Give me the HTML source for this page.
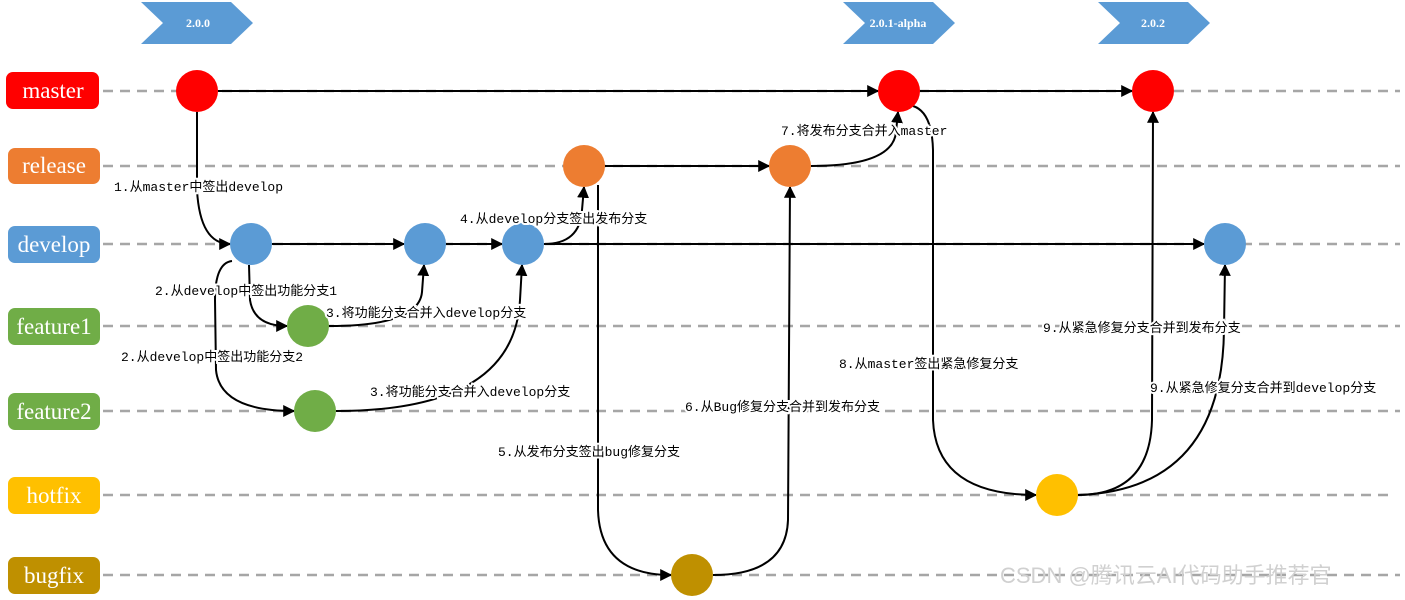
<!DOCTYPE html>
<html><head><meta charset="utf-8"><style>
html,body{margin:0;padding:0;background:#fff;}
svg{display:block;}
.lb{font-family:"Liberation Serif","Noto Serif CJK SC",serif;font-size:23px;fill:#fff;text-anchor:middle;}
.t{font-family:"Liberation Mono","Noto Sans CJK SC",monospace;font-size:13px;fill:#000;paint-order:stroke;stroke:#fff;stroke-width:4px;}
.tag{font-family:"Liberation Serif",serif;font-size:12px;font-weight:bold;fill:#fff;text-anchor:middle;}
.d{stroke:#a6a6a6;stroke-width:2.5;stroke-dasharray:10 7;fill:none;}
.c{stroke:#000;stroke-width:2;fill:none;marker-end:url(#a);}
</style></head><body>
<svg width="1405" height="600" viewBox="0 0 1405 600" xmlns="http://www.w3.org/2000/svg">
<defs><marker id="a" viewBox="0 0 10 10" refX="9" refY="5" markerWidth="6" markerHeight="6" orient="auto"><path d="M0 0 L10 5 L0 10 z" fill="#000"/></marker></defs>
<polygon points="141,2 231,2 253,23 231,44 141,44 163,23" fill="#5b9bd5"/>
<text class="tag" x="198" y="27">2.0.0</text>
<polygon points="843,2 933,2 955,23 933,44 843,44 865,23" fill="#5b9bd5"/>
<text class="tag" x="898" y="27">2.0.1-alpha</text>
<polygon points="1098,2 1188,2 1210,23 1188,44 1098,44 1120,23" fill="#5b9bd5"/>
<text class="tag" x="1153" y="27">2.0.2</text>
<line class="d" x1="103" y1="91" x2="1400" y2="91"/>
<line class="d" x1="103" y1="166" x2="1400" y2="166"/>
<line class="d" x1="103" y1="244" x2="1400" y2="244"/>
<line class="d" x1="103" y1="326" x2="1400" y2="326"/>
<line class="d" x1="103" y1="411" x2="1400" y2="411"/>
<line class="d" x1="103" y1="495" x2="1395" y2="495"/>
<line class="d" x1="103" y1="575" x2="1400" y2="575"/>
<rect x="6" y="72" width="93" height="37" rx="7" fill="#ff0000"/><text class="lb" x="53" y="98">master</text>
<rect x="8" y="148" width="92" height="36" rx="7" fill="#ed7d31"/><text class="lb" x="54" y="173">release</text>
<rect x="8" y="226" width="92" height="37" rx="7" fill="#5b9bd5"/><text class="lb" x="54" y="252">develop</text>
<rect x="8" y="308" width="92" height="37" rx="7" fill="#70ad47"/><text class="lb" x="54" y="334">feature1</text>
<rect x="8" y="393" width="92" height="37" rx="7" fill="#70ad47"/><text class="lb" x="54" y="419">feature2</text>
<rect x="8" y="477" width="92" height="37" rx="7" fill="#ffc000"/><text class="lb" x="54" y="503">hotfix</text>
<rect x="8" y="557" width="92" height="37" rx="7" fill="#bf9000"/><text class="lb" x="54" y="583">bugfix</text>
<path class="c" d="M218 91 L878 91"/>
<path class="c" d="M920 91 L1132 91"/>
<path class="c" d="M197 112 L197 190 Q200 244 230 244"/>
<path class="c" d="M272 244 L404 244"/>
<path class="c" d="M446 244 L502 244"/>
<path class="c" d="M544 244 L1204 244"/>
<path class="c" d="M544 244 Q580 244 582 210 L584 187"/>
<path class="c" d="M605 166 L769 166"/>
<path class="c" d="M811 166 Q893 166 896 132 L898 112"/>
<path class="c" d="M249 265 L250 300 Q254 326 287 326"/>
<path class="c" d="M232 261 Q215 263 215 300 L216 370 Q220 411 294 411"/>
<path class="c" d="M329 326 Q419 326 422 292 L424 265"/>
<path class="c" d="M336 411 Q514 411 520 300 L522 265"/>
<path class="c" d="M598 185 L598 510 Q600 575 671 575"/>
<path class="c" d="M713 575 Q786 575 788 520 L790 187"/>
<path class="c" d="M913 106 Q932 112 933 150 L933 420 Q936 495 1036 495"/>
<path class="c" d="M1078 495 Q1150 495 1152 420 L1153 112"/>
<path class="c" d="M1078 495 Q1222 490 1224 330 L1225 265"/>
<ellipse cx="197" cy="91" rx="21" ry="21" fill="#ff0000"/>
<ellipse cx="899" cy="91" rx="21" ry="21" fill="#ff0000"/>
<ellipse cx="1153" cy="91" rx="21" ry="21" fill="#ff0000"/>
<ellipse cx="584" cy="166" rx="21" ry="21" fill="#ed7d31"/>
<ellipse cx="790" cy="166" rx="21" ry="21" fill="#ed7d31"/>
<ellipse cx="251" cy="244" rx="21" ry="21" fill="#5b9bd5"/>
<ellipse cx="425" cy="244" rx="21" ry="21" fill="#5b9bd5"/>
<ellipse cx="523" cy="244" rx="21" ry="21" fill="#5b9bd5"/>
<ellipse cx="1225" cy="244" rx="21" ry="21" fill="#5b9bd5"/>
<ellipse cx="308" cy="326" rx="21" ry="21" fill="#70ad47"/>
<ellipse cx="315" cy="411" rx="21" ry="21" fill="#70ad47"/>
<ellipse cx="1057" cy="495" rx="21" ry="21" fill="#ffc000"/>
<ellipse cx="692" cy="575" rx="21" ry="21" fill="#bf9000"/>
<g class="t">
<text x="114" y="191">1.从master中签出develop</text>
<text x="155" y="295">2.从develop中签出功能分支1</text>
<text x="326" y="317">3.将功能分支合并入develop分支</text>
<text x="121" y="361">2.从develop中签出功能分支2</text>
<text x="370" y="396">3.将功能分支合并入develop分支</text>
<text x="460" y="223">4.从develop分支签出发布分支</text>
<text x="498" y="456">5.从发布分支签出bug修复分支</text>
<text x="685" y="411">6.从Bug修复分支合并到发布分支</text>
<text x="781" y="135">7.将发布分支合并入master</text>
<text x="839" y="368">8.从master签出紧急修复分支</text>
<text x="1043" y="332">9.从紧急修复分支合并到发布分支</text>
<text x="1150" y="392">9.从紧急修复分支合并到develop分支</text>
</g>
<text x="1000" y="583" font-family="Liberation Sans,Noto Sans CJK SC,sans-serif" font-size="22" fill="#d0d0d0">CSDN @腾讯云AI代码助手推荐官</text>
</svg>
</body></html>
